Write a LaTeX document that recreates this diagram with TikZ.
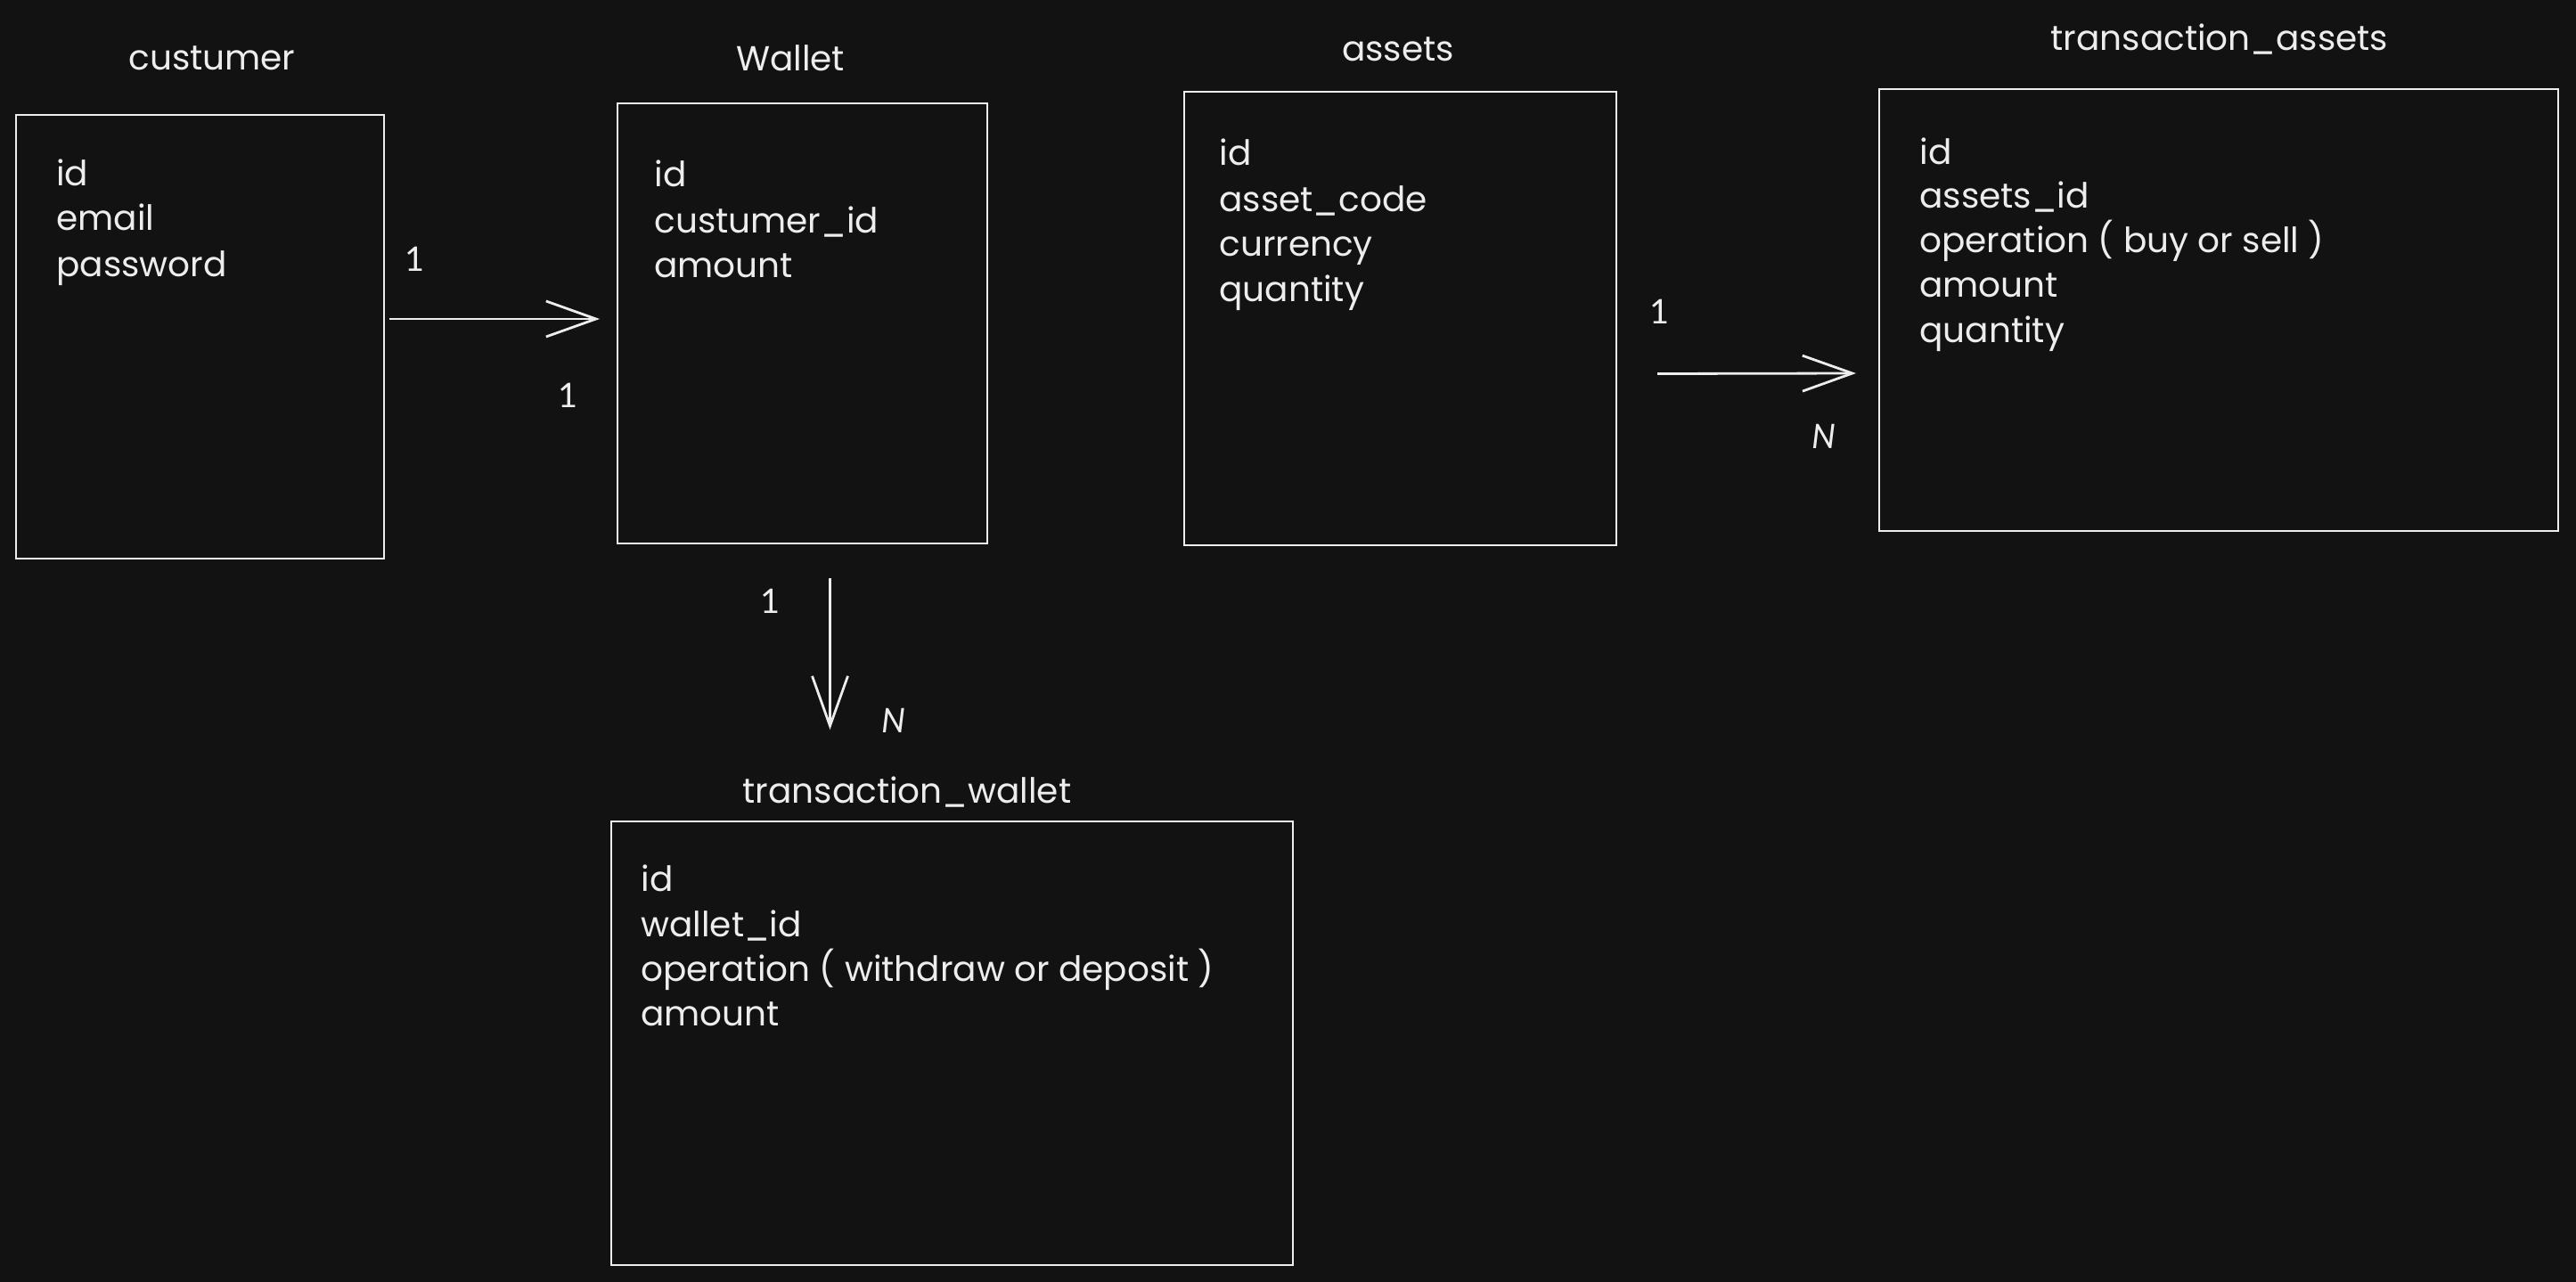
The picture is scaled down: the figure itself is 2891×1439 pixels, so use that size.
\documentclass[tikz,border=0pt]{standalone}
\usepackage{fontspec}
\setmainfont{Poppins}
\newfontfamily\cardfont{Lato}
\usetikzlibrary{arrows.meta}
\definecolor{bg}{HTML}{121212}
\definecolor{ink}{HTML}{EDEDED}
\begin{document}
\begin{tikzpicture}[x=0.5pt,y=-0.5pt,
  tbl/.style={draw=ink, line width=1.4pt, inner sep=0pt, outer sep=0pt, rectangle},
  fld/.style={anchor=base west, inner sep=0pt, text=ink, font=\fontsize{19.5}{24}\selectfont},
  ttl/.style={inner sep=0pt, text=ink, font=\fontsize{19.5}{24}\selectfont},
  card/.style={inner sep=0pt, text=ink, font=\cardfont\fontsize{19}{22}\selectfont},
  rel/.style={draw=ink, line width=1.4pt, -{Straight Barb[length=28pt,width=20pt,line width=1.4pt]}}]
\fill[bg] (0,0) rectangle (2891,1439);
\useasboundingbox (0,0) rectangle (2891,1439);

% tables
\node[tbl, minimum width=206.5pt, minimum height=249pt] (cust) at (224.5,378) {};
\node[tbl, minimum width=207.5pt, minimum height=247pt] (wallet) at (900.5,363) {};
\node[tbl, minimum width=242.5pt, minimum height=254.5pt] (assets) at (1571.5,357.5) {};
\node[tbl, minimum width=381pt, minimum height=248pt] (ta) at (2490,348) {};
\node[tbl, minimum width=382.5pt, minimum height=249pt] (tw) at (1068.5,1171) {};

% titles
\node[ttl] (custT) at (238,65) {custumer};
\node[ttl] (walletT) at (887,65) {Wallet};
\node[ttl] (assetsT) at (1569,55) {assets};
\node[ttl] (taT) at (2491,44) {transaction\_assets};
\node[ttl] (twT) at (1018,889) {transaction\_wallet};

% fields
\node[fld] (c1) at (63,209) {id};
\node[fld] (c2) at (63,259) {email};
\node[fld] (c3) at (63,310) {password};

\node[fld] (w1) at (734,210) {id};
\node[fld] (w2) at (734,262) {custumer\_id};
\node[fld] (w3) at (734,312) {amount};

\node[fld] (a1) at (1368,186) {id};
\node[fld] (a2) at (1368,238) {asset\_code};
\node[fld] (a3) at (1368,288) {currency};
\node[fld] (a4) at (1368,338) {quantity};

\node[fld] (t1) at (2154,185) {id};
\node[fld] (t2) at (2154,234) {assets\_id};
\node[fld] (t3) at (2154,284) {operation ( buy or sell )};
\node[fld] (t4) at (2154,334) {amount};
\node[fld] (t5) at (2154,384) {quantity};

\node[fld] (v1) at (719,1000) {id};
\node[fld] (v2) at (719,1051) {wallet\_id};
\node[fld] (v3) at (719,1101) {operation ( withdraw or deposit )};
\node[fld] (v4) at (719,1151) {amount};

% connectors
\draw[rel] ([shift={(3pt,10pt)}]cust.east) -- ([shift={(-10pt,2.5pt)}]wallet.west);
\draw[rel] ([shift={(15.5pt,-19.5pt)}]wallet.south) -- ([shift={(-68.5pt,51.5pt)}]tw.north);
\draw[rel] ([shift={(23pt,-31pt)}]assets.east) -- ([shift={(-13pt,-35.5pt)}]ta.west);

% cardinalities
\node[card] (k1) at (466,291) {1};
\node[card] (k2) at (638,444) {1};
\node[card] (k3) at (865,675) {1};
\node[card] (k4) at (1003,809) {\itshape N};
\node[card] (k5) at (1862,350) {1};
\node[card] (k6) at (2047,490) {\itshape N};
\end{tikzpicture}
\end{document}
